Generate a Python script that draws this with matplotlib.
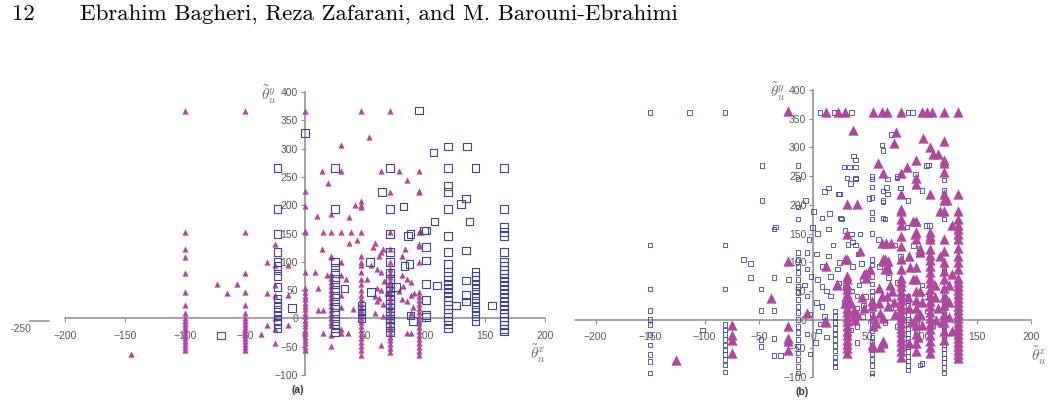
import matplotlib
matplotlib.use("Agg")
import matplotlib.pyplot as plt
from matplotlib.lines import Line2D

plt.rcParams['font.family'] = ['Liberation Sans', 'DejaVu Sans']
plt.rcParams['mathtext.fontset'] = 'cm'

header_page = "12"
header_authors = "Ebrahim Bagheri, Reza Zafarani, and M. Barouni-Ebrahimi"

x_ticks = [-200, -150, -100, -50, 0, 50, 100, 150, 200]
y_ticks = [-100, -50, 0, 50, 100, 150, 200, 250, 300, 350, 400]

# ---------------- panel (a) ----------------
# stacked columns: (x, [y values])
a_tri_cols = [
    (-100, [367, 153, 123, 109, 81, 46, 23, 9, 0, -5, -10, -15, -20, -25, -30, -35, -40, -45, -50, -55]),
    (-50, [367, 153, 81, 46, 23, 9, 0, -5, -10, -15, -20, -25, -30, -35, -40, -45, -50, -55]),
    (0, [367, 225, 198, 155, 153, 82, 53, 46, 40, 34, 28, 22, 16, 10, 4, -2, -8, -14, -20, -26, -32, -38, -44, -50, -56]),
    (22, [184, 153, 111, 109, 79, 72, 65, 58, 50, 43, 36, 29, 22, 15, 8, 1, -6, -12, -29, -49]),
    (47, [367, 208, 200, 197, 153, 111, 100, 94, 82, 70, 60, 50, 41, 35, 28, 21, 14, 7, 0, -7, -14, -21, -28, -35, -42, -49, -56, -64]),
    (71, [367, 223, 153, 123, 100, 88, 80, 73, 66, 59, 52, 45, 38, 31, 24, 17, 10, 3, -4, -11, -18, -25, -32, -39, -46, -53, -60]),
    (95, [260, 225, 223, 153, 131, 128, 100, 47, 40, 33, 26, 19, 12, 5, -2, -9, -16, -23, -30, -37, -44, -51, -58, -64]),
]
a_tri_pts = [
    (-145, -63), (-73, 61), (-57, 61), (-65, 45), (-32, 100), (-32, 45), (-32, -12), (-37, -28),
    (-25, 131), (-25, 94), (-25, 59), (-25, 41), (-25, 0), (-25, -18), (-25, -44),
    (-14, 94), (-14, 41), (-14, -12),
    (53, 321), (30, 307), (14, 260), (30, 260), (63, 260), (78, 260), (19, 239), (85, 245),
    (42, 200), (10, 181), (37, 179),
    (8, 82), (11, 53), (11, 15), (15, 15), (15, -26), (15, 153), (14, 123), (18, 76),
    (30, 153), (30, 100), (30, 76), (30, 41), (30, 21), (30, -18), (30, -26), (36, -26),
    (34, 70), (38, 153), (37, 133), (43, 139), (40, 16),
    (58, 133), (57, 126), (55, 94), (60, 88), (63, 82), (60, 53), (63, 50), (60, 30), (65, 26),
    (63, -47), (63, 117), (62, 111), (65, 123),
    (83, 123), (81, 111), (81, 76), (85, 70), (88, 65), (81, 35), (85, 30), (85, -26), (88, -26),
    (91, 44), (88, 41), (97, 153),
    (52, 70), (66, 66), (70, 60), (58, 40), (62, 36), (68, 45), (78, 48), (82, 58), (90, 20),
    (88, 10), (65, 5), (58, 10),
]
a_sq_cols = [
    (-23, [266, 193, 149, 117, 100, 93, 85, 75, 56, 35, 28, 20, 12, 5, -3, -10, -18]),
    (25, [266, 193, 100, 90, 80, 70, 60, 50, 40, 30, 20, 10, 0, -10, -18, -25]),
    (47, [23, 15, 8, 0]),
    (71, [266, 193, 149, 117, 100, 80, 70, 55, 48, 40, 32, 25, 18, 10, 0, -8, -15, -25]),
    (101, [155, 126, 102, 61, 32, 3]),
    (119, [304, 266, 234, 223, 193, 146, 117, 96, 82, 75, 68, 60, 53, 46, 38, 31, 24, 17, 10, 3, -4, -11, -18]),
    (142, [266, 82, 75, 68, 60, 52, 44, 36, 28, 20, 12, 4, -5]),
    (166, [266, 193, 161, 153, 146, 117, 100, 93, 86, 79, 72, 65, 58, 51, 44, 37, 30, 23, 16, 9, 2, -5, -12, -19, -23]),
]
a_sq_pts = [
    (0, 328), (-11, 18), (-70, -30), (33, 53), (54, 100), (55, 47), (64, 223), (82, 198),
    (83, 93), (87, 96), (95, 367), (88, 149), (88, 5), (90, -5), (107, 293), (108, 171),
    (110, 58), (135, 304), (134, 212), (130, 202), (134, 120), (134, 67), (134, 41), (134, 30),
    (126, 23), (137, 171), (156, 23), (99, 155), (76, 56), (86, 146), (101, 6),
]

# ---------------- panel (b) ----------------
b_sq_cols = [
    (-150, [361, 130, 53, 16, 0, -9, -26, -44, -61, -73, -93]),
    (-81, [361, 130, 53, -9, -18, -26, -35, -44, -53, -61, -70, -79, -91]),
    (-14, [268, 245, 196, 175, 117, 105, 93, 82, 70, 58, 47, 35, 23, 12, 0, -12, -23, -35, -47, -58, -70, -82, -93]),
    (20, [15, 5, -5, -15, -25, -35, -45, -55, -65, -75, -82]),
    (54, [249, 245, 231, 213, 187, 175, 150, 105, 95, 75, 62, 50, 40, 30, 20, 10, 0, -10, -20, -30, -40, -50, -60, -70, -80, -93, -99]),
    (87, [41, 33, 25, 17, 9, 0, -8, -16, -24, -32, -40, -48, -56, -64, -72, -80, -88]),
    (120, [243, 225, 208, 175, 88, 53, 45, 37, 29, 21, 13, 5, -3, -11, -19, -27, -35, -43, -51, -59, -67, -75, -83, -93]),
]
b_sq_pts = [
    (-114, 361), (6, 361), (19, 361), (35, 361), (87, 361), (91, 361),
    (-64, 105), (-58, 98), (-58, 73), (-48, 53), (-48, 16), (-48, -35), (-48, -47),
    (-36, 158), (-36, 73), (-36, 16), (-36, -33), (-36, -63), (-30, -63), (-47, 268), (-47, 208),
    (-35, 161), (-102, -18), (-23, 70), (-6, 117), (-6, 88), (-6, 41),
    (72, 323), (63, 304), (64, 295), (37, 285), (39, 278), (104, 268), (77, 247), (31, 247), (39, 247),
    (10, 223), (14, 229), (24, 219), (67, 230), (68, 219), (64, 208), (51, 211), (80, 229), (87, 208),
    (121, 208), (-7, 208), (0, 188), (15, 185), (8, 177), (25, 177), (64, 177), (104, 164), (86, 161),
    (28, 266), (33, 266), (39, 266), (23, 219), (34, 237), (39, 245), (26, 175), (14, 158),
    (29, 155), (35, 149), (32, 131), (39, 130), (41, 114), (36, 135), (43, 149), (14, 111), (3, 114),
    (8, 93), (22, 88), (8, 58), (12, 50), (16, 41), (23, 64), (29, 56), (35, 50), (40, 41), (8, 23),
    (34, -18), (40, -12), (64, 224), (64, 205), (66, 175), (68, 245), (77, 249), (61, 93), (68, 93),
    (69, 73), (77, 65), (66, -5), (77, -12), (94, 254), (100, 225), (106, 269), (92, 129), (97, 124),
    (95, -5), (95, -23), (100, -76), (107, 164), (98, -79), (-4, 140), (3, 30), (-3, 10), (5, -20),
    (2, -40), (-3, -60), (28, 30), (30, 10), (40, 20), (45, 5), (45, 70), (48, 40), (60, 140),
    (75, 130), (80, 110), (70, 30), (75, 20), (102, 40), (105, 15), (110, -10), (100, 60),
    (-8, 60), (-2, 75), (4, 70), (10, 5), (6, -8), (12, -30), (-6, -25), (16, 75), (-1, 160),
    (4, 150), (18, 130), (24, 100), (36, 92), (44, 98), (42, 60), (46, 25), (32, -30), (40, -40),
]
b_tri_cols = [
    (31, [202, 149, 105, 76, 70, 61, 53, 45, 37, 29, 21, 13, 5, -3, -11, -19, -27, -35, -43, -50, -58]),
    (81, [256, 219, 193, 190, 175, 164, 146, 129, 105, 88, 73, 65, 58, 50, 42, 34, 26, 18, 10, 2, -6, -14, -22, -30, -38, -46, -55, -65]),
    (94, [278, 247, 237, 171, 152, 140, 91, 70, 50, 35, 20, 5, -10, -25, -40, -55]),
    (107, [301, 219, 152, 146, 140, 123, 113, 103, 93, 83, 73, 63, 53, 43, 33, 23, 13, 3, -7, -17, -27, -37, -47, -58]),
    (120, [311, 278, 272, 257, 219, 208, 190, 140, 120, 100, 85, 70, 55, 40, 25, 10, -5, -20, -35]),
    (133, [219, 190, 175, 164, 158, 150, 140, 125, 110, 100, 88, 73, 66, 59, 52, 45, 38, 31, 24, 17, 10, 3, -4, -11, -18, -25, -32, -39, -46, -53, -60, -67]),
]
b_tri_pts = [
    (-23, 364), (12, 361), (23, 361), (29, 361), (55, 361), (63, 361), (68, 361), (81, 361),
    (100, 361), (104, 361), (109, 361), (120, 361), (133, 361),
    (36, 330), (76, 326), (74, 307), (101, 316), (110, 289), (115, 288), (59, 272), (64, 256),
    (86, 266), (127, 164), (123, 208), (40, 202), (116, 190), (92, 172), (93, 149),
    (-75, -9), (-75, -26), (-75, -35), (-75, -58), (-126, -70), (-39, 38), (-23, 102),
    (-23, -12), (-23, -32), (-23, -38), (-23, -53), (-6, 12), (11, -3), (22, 61), (38, 0),
    (37, 17), (37, 6), (43, 120), (47, 79), (52, 88), (54, 32), (54, 23), (54, -44),
    (63, 134), (67, 134), (71, 134), (64, 105), (64, 102), (69, 102), (63, 41), (69, 23),
    (61, 12), (58, -6), (64, -41), (61, -47), (89, 91), (92, 70), (98, 123), (98, 117),
    (113, 0), (122, 38), (29, 105), (12, 93), (22, 62), (29, 29), (35, 29), (40, 9), (12, -5),
    (48, 82), (48, 73), (66, 105), (66, 88), (69, 88), (68, 41), (60, 29), (55, 6),
    (55, -12), (64, 3), (64, -38), (55, -47),
    (98, 50), (100, 30), (98, 10), (100, -10), (96, -30), (112, 40), (115, 20), (118, -5),
    (125, 30), (125, 5), (127, -20), (125, 60), (127, 80), (116, 110), (112, 60), (88, 110),
    (87, 40), (88, 20), (90, -5), (88, -40), (70, 60), (72, 50), (74, 30), (75, 10), (60, 55),
    (45, 40), (47, 20),
]

TRI = '#b0479f'
SQ = '#3f4394'
GREY = '#8a8a8a'
LBL = '#555555'


def flatten(cols, pts):
    xs, ys = [], []
    for x, col in cols:
        for y in col:
            xs.append(x)
            ys.append(y)
    for x, y in pts:
        xs.append(x)
        ys.append(y)
    return xs, ys


def style_axes(ax, xlim):
    ax.set_xlim(*xlim)
    ax.set_ylim(-100, 400)
    ax.patch.set_visible(False)
    for s in ['top', 'right']:
        ax.spines[s].set_visible(False)
    for s in ['left', 'bottom']:
        ax.spines[s].set_position(('data', 0))
        ax.spines[s].set_color(GREY)
        ax.spines[s].set_linewidth(1.1)
    ax.set_xticks(x_ticks)
    ax.set_yticks(y_ticks)
    ax.tick_params(axis='x', direction='out', length=3, width=0.8, color=GREY,
                   pad=6, labelsize=7.5, labelcolor=LBL)
    ax.tick_params(axis='y', direction='out', length=3, width=0.8, color=GREY,
                   pad=2, labelsize=7.5, labelcolor=LBL)


fig = plt.figure(figsize=(10.51, 4.11), dpi=100)

fig.text(12 / 1051, 1 - 14 / 411, header_page, family='cmr10', fontsize=16.5, va='center')
fig.text(80 / 1051, 1 - 14 / 411, header_authors, family='cmr10', fontsize=16.5, va='center')

# panel (a)
ax1 = fig.add_axes([65 / 1051, 36 / 411, 480 / 1051, 283 / 411])
style_axes(ax1, (-200, 200))
tx, ty = flatten(a_tri_cols, a_tri_pts)
sx, sy = flatten(a_sq_cols, a_sq_pts)
ax1.scatter(tx, ty, marker='^', s=20, c=TRI, linewidths=0, zorder=3)
ax1.scatter(sx, sy, marker='s', s=30, facecolors='none', edgecolors=SQ, linewidths=0.8, zorder=3)
ax1.add_line(Line2D([-229, -213], [-4, -4], color=GREY, lw=1.1, clip_on=False))
ax1.text(-237, -10, '-250', fontsize=7.5, color=LBL, ha='center', va='top')
ax1.text(-30, 395, r'$\tilde{\theta}^{y}_{u}$', fontsize=11, color='#666666', ha='center', va='center')
ax1.text(194, -63, r'$\tilde{\theta}^{x}_{u}$', fontsize=11, color='#666666', ha='center', va='center')
ax1.text(-6, -127, '(a)', fontsize=7.5, fontweight='bold', color='#333333', ha='center', va='center')

# panel (b)
ax2 = fig.add_axes([575 / 1051, 34 / 411, 456 / 1051, 287 / 411])
style_axes(ax2, (-219, 200))
tx, ty = flatten(b_tri_cols, b_tri_pts)
sx, sy = flatten(b_sq_cols, b_sq_pts)
ax2.scatter(sx, sy, marker='s', s=11, facecolors='none', edgecolors=SQ, linewidths=0.6, zorder=3)
ax2.scatter(tx, ty, marker='^', s=55, c=TRI, linewidths=0, zorder=3)
ax2.text(-33, 397, r'$\tilde{\theta}^{y}_{u}$', fontsize=11, color='#666666', ha='center', va='center')
ax2.text(207, -63, r'$\tilde{\theta}^{x}_{u}$', fontsize=11, color='#666666', ha='center', va='center')
ax2.text(-10, -127, '(b)', fontsize=7.5, fontweight='bold', color='#333333', ha='center', va='center')

fig.savefig('out.png', dpi=100)
